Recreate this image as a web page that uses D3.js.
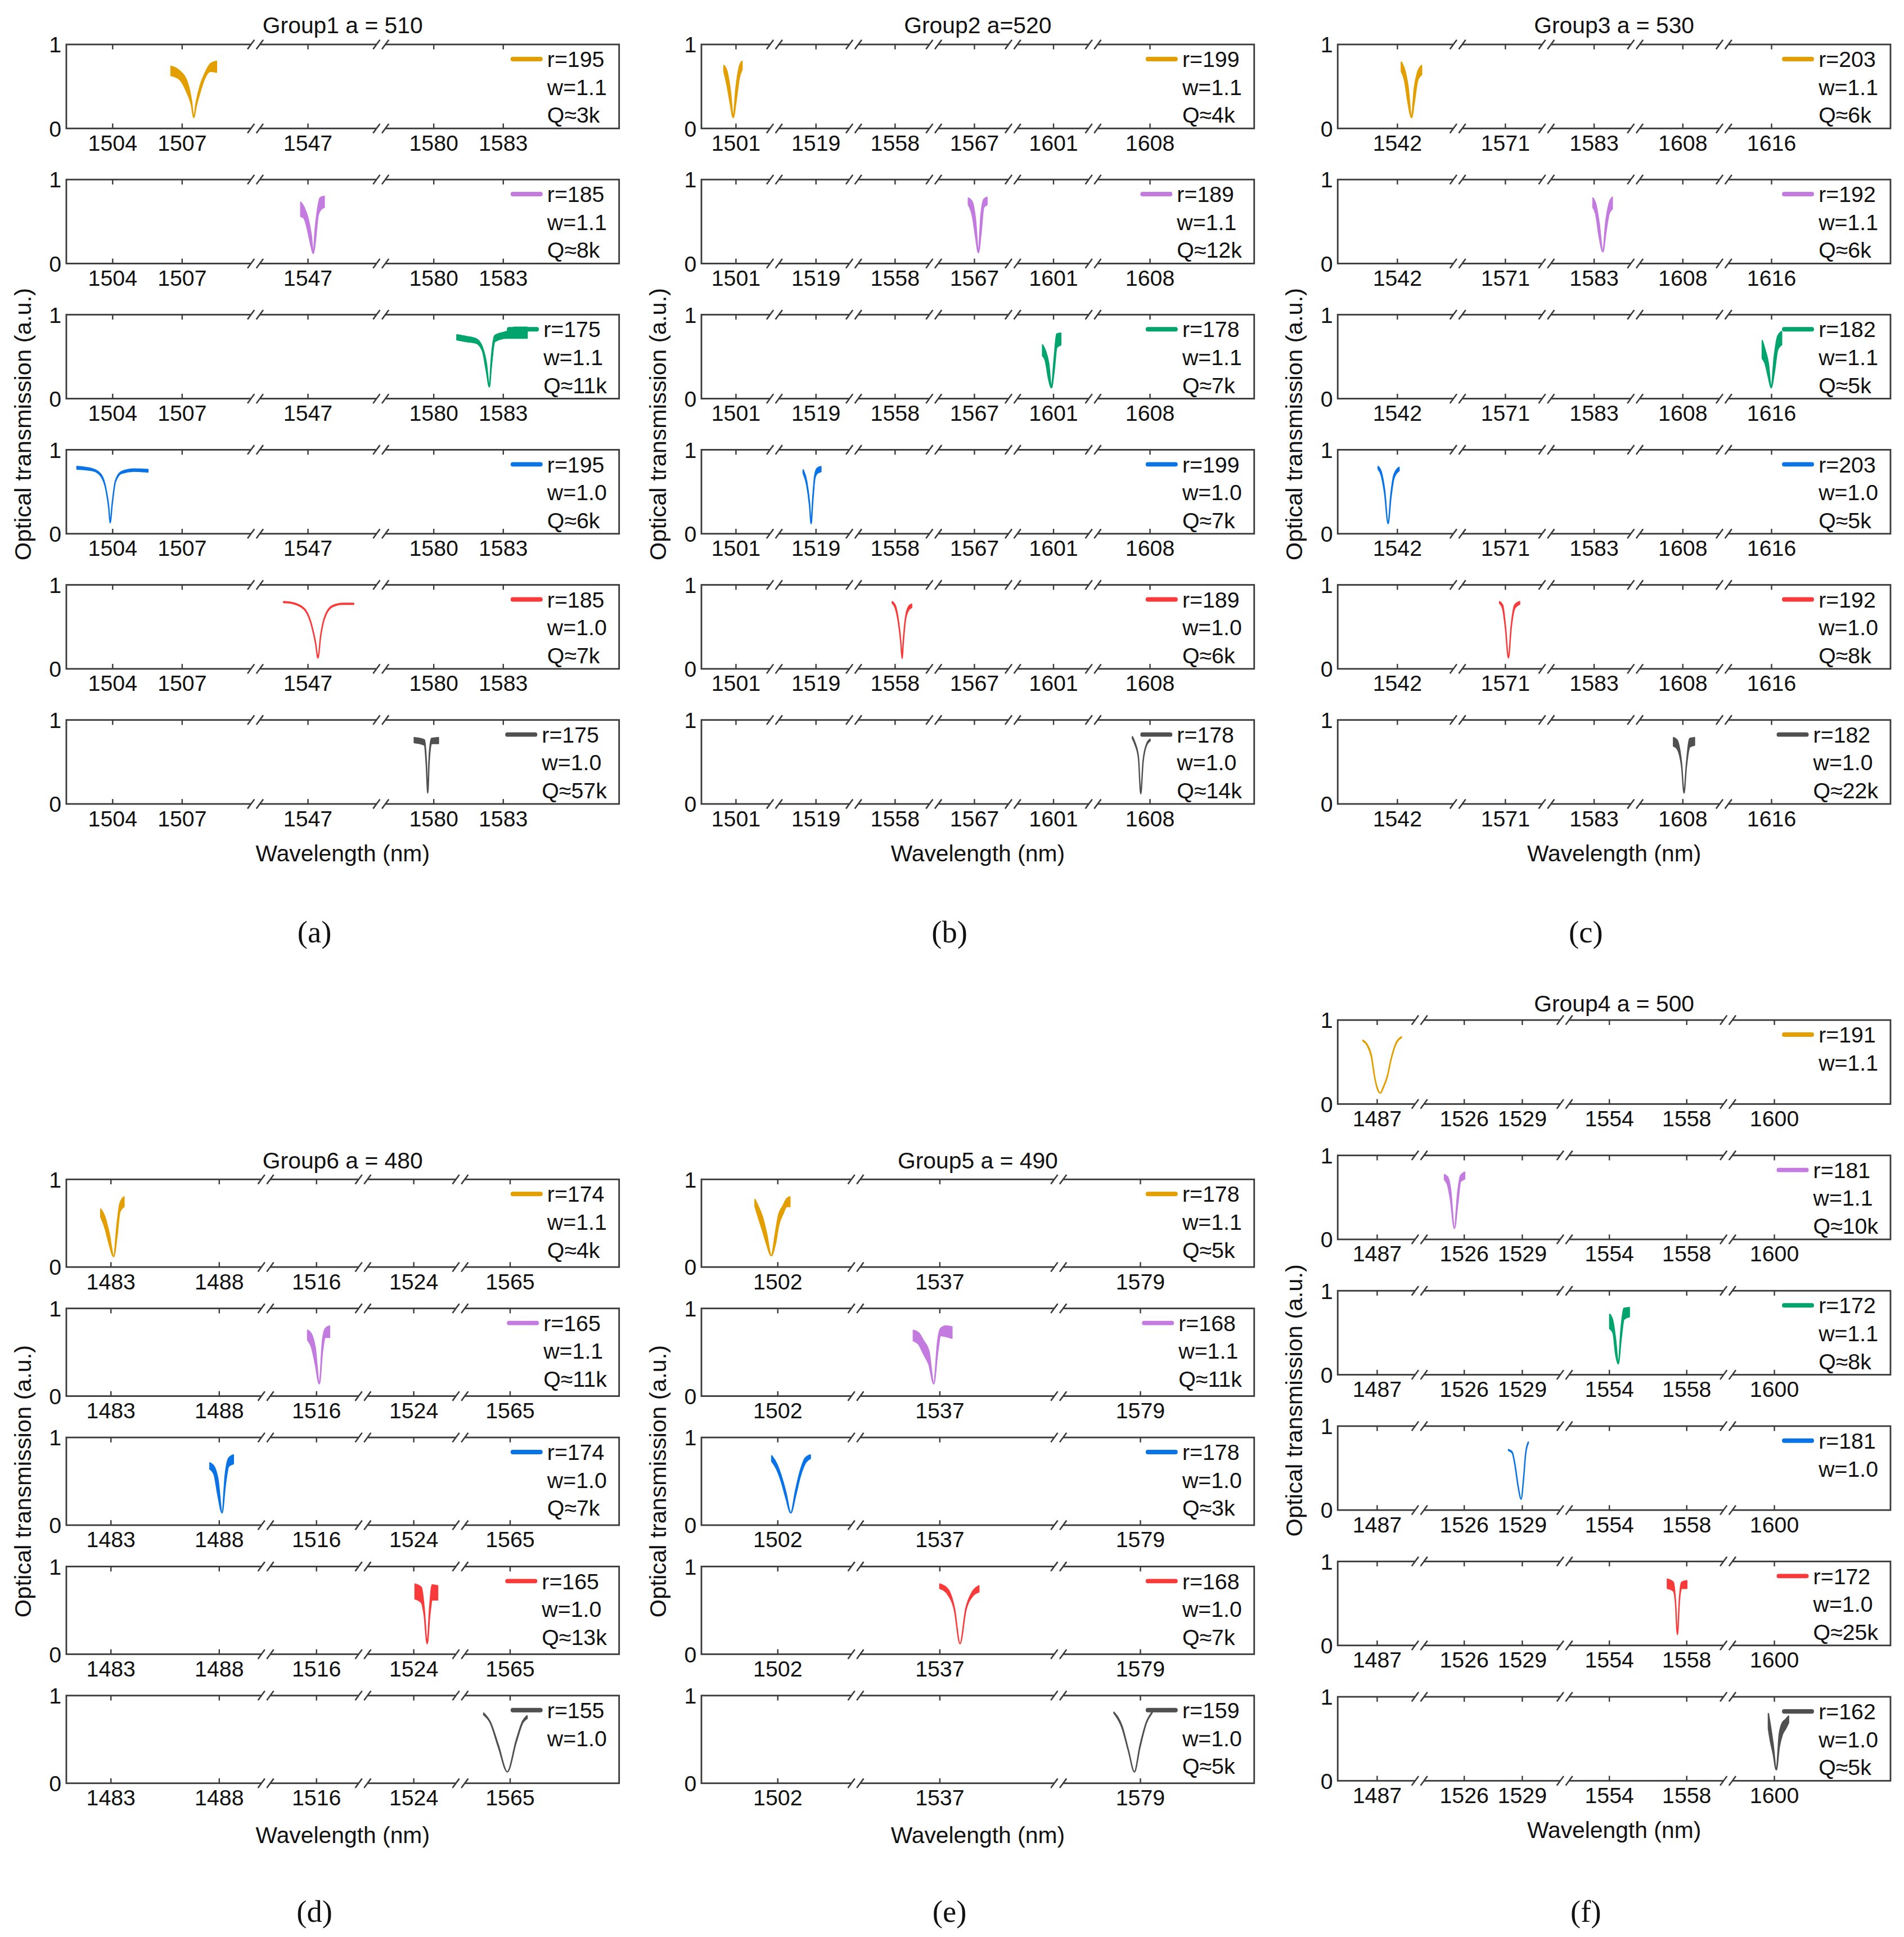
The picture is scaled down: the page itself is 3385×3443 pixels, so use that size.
<!DOCTYPE html>
<html>
<head>
<meta charset="utf-8">
<script src="https://cdn.jsdelivr.net/npm/d3@7"></script>
<style>
    body { margin: 0; background: #fff; }
    text { font-family: "Liberation Sans", Arial, sans-serif; fill: #111; }
    .letter { font-family: "Liberation Serif", "Times New Roman", serif; }
</style>
</head>
<body>
<div id="chart"></div>
<script>
// ---------------- data ----------------
// panel order: (a) (b) (c) on top, (d) (e) (f) below
const groupNames = ["Group1 a = 510", "Group2 a=520", "Group3 a = 530", "Group6 a = 480", "Group5 a = 490", "Group4 a = 500"];
const panelLetters = ["(a)", "(b)", "(c)", "(d)", "(e)", "(f)"];

// visible wavelength windows (nm) of every broken x axis
const axisSegments = [
    [[1502.0, 1510.16], [1544.73, 1550.15], [1577.72, 1588.0]],
    [[1499.51, 1502.66], [1517.21, 1520.63], [1556.22, 1559.67], [1565.25, 1568.66], [1599.25, 1602.71], [1605.55, 1612.49]],
    [[1539.43, 1544.6], [1568.95, 1572.77], [1580.95, 1584.77], [1605.95, 1609.77], [1613.95, 1621.12]],
    [[1480.94, 1490.15], [1513.66, 1518.15], [1521.66, 1526.15], [1562.7, 1570.03]],
    [[1498.71, 1505.36], [1533.38, 1542.12], [1575.48, 1583.9]],
    [[1484.96, 1489.19], [1523.69, 1531.19], [1551.69, 1560.13], [1597.6, 1606.0]]
];

const tickValues = [
    [1504, 1507, 1547, 1580, 1583],
    [1501, 1519, 1558, 1567, 1601, 1608],
    [1542, 1571, 1583, 1608, 1616],
    [1483, 1488, 1516, 1524, 1565],
    [1502, 1537, 1579],
    [1487, 1526, 1529, 1554, 1558, 1600]
];

const radii = [
    [195, 185, 175, 195, 185, 175],
    [199, 189, 178, 199, 189, 178],
    [203, 192, 182, 203, 192, 182],
    [174, 165, 174, 165, 155],
    [178, 168, 178, 168, 159],
    [191, 181, 172, 181, 172, 162]
];
const wgWidths = [
    ["1.1", "1.1", "1.1", "1.0", "1.0", "1.0"],
    ["1.1", "1.1", "1.1", "1.0", "1.0", "1.0"],
    ["1.1", "1.1", "1.1", "1.0", "1.0", "1.0"],
    ["1.1", "1.1", "1.0", "1.0", "1.0"],
    ["1.1", "1.1", "1.0", "1.0", "1.0"],
    ["1.1", "1.1", "1.1", "1.0", "1.0", "1.0"]
];
const qFactors = [
    ["3k", "8k", "11k", "6k", "7k", "57k"],
    ["4k", "12k", "7k", "7k", "6k", "14k"],
    ["6k", "6k", "5k", "5k", "8k", "22k"],
    ["4k", "11k", "7k", "13k", null],
    ["5k", "11k", "3k", "7k", "5k"],
    [null, "10k", "8k", null, "25k", "5k"]
];
// which series colour each row uses (w=1.1 large/mid/small, w=1.0 large/mid/small)
const seriesKind = [
    [0, 1, 2, 3, 4, 5],
    [0, 1, 2, 3, 4, 5],
    [0, 1, 2, 3, 4, 5],
    [0, 1, 3, 4, 5],
    [0, 1, 3, 4, 5],
    [0, 1, 2, 3, 4, 5]
];

// transmission traces: [wavelength nm, lower edge, upper edge] of the (noisy) band
const traces = [
    [
        [[1506.52,.63,.74],[1506.87,.59,.69],[1507.22,.42,.55],[1507.40,.28,.33],[1507.50,.13,.13],[1507.60,.26,.30],[1507.80,.46,.53],[1507.96,.59,.64],[1508.22,.68,.77],[1508.48,.67,.80]],
        [[1546.69,.56,.73],[1546.83,.54,.67],[1547.00,.38,.54],[1547.14,.20,.34],[1547.23,.12,.12],[1547.31,.25,.40],[1547.43,.56,.67],[1547.52,.63,.78],[1547.70,.67,.80]],
        [[1581.00,.70,.76],[1581.40,.68,.74],[1581.84,.66,.71],[1582.10,.57,.61],[1582.27,.33,.42],[1582.40,.14,.14],[1582.48,.37,.46],[1582.63,.68,.75],[1583.15,.72,.80],[1583.50,.72,.85],[1584.03,.72,.85]],
        [[1502.46,.77,.80],[1503.16,.75,.77],[1503.51,.68,.70],[1503.72,.51,.52],[1503.83,.31,.32],[1503.89,.13,.13],[1503.98,.35,.36],[1504.12,.62,.63],[1504.38,.72,.74],[1504.91,.745,.77],[1505.52,.735,.765]],
        [[1545.95,.79,.80],[1546.30,.78,.79],[1546.83,.71,.72],[1547.17,.50,.51],[1547.33,.30,.31],[1547.43,.13,.13],[1547.55,.39,.40],[1547.70,.59,.60],[1548.05,.74,.75],[1548.50,.77,.78],[1548.97,.77,.78]],
        [[1579.16,.73,.79],[1579.40,.72,.78],[1579.60,.70,.76],[1579.68,.45,.50],[1579.74,.13,.13],[1579.80,.50,.55],[1579.90,.72,.78],[1580.20,.72,.79]]
    ],
    [
        [[1500.48,.68,.75],[1500.62,.51,.67],[1500.76,.29,.44],[1500.88,.13,.13],[1501.00,.32,.48],[1501.14,.60,.73],[1501.26,.70,.80]],
        [[1566.74,.70,.78],[1566.91,.57,.73],[1567.05,.32,.51],[1567.17,.13,.13],[1567.28,.35,.57],[1567.40,.67,.76],[1567.54,.70,.79]],
        [[1600.53,.51,.64],[1600.65,.45,.57],[1600.79,.23,.42],[1600.91,.13,.13],[1601.02,.32,.45],[1601.14,.61,.77],[1601.31,.64,.78]],
        [[1518.45,.72,.76],[1518.60,.58,.62],[1518.72,.34,.37],[1518.79,.12,.12],[1518.86,.38,.42],[1518.95,.66,.70],[1519.05,.72,.78],[1519.21,.74,.80]],
        [[1557.88,.78,.80],[1558.00,.73,.76],[1558.15,.54,.56],[1558.25,.30,.31],[1558.30,.125,.125],[1558.36,.34,.36],[1558.45,.59,.61],[1558.58,.70,.74],[1558.71,.73,.77]],
        [[1607.24,.78,.80],[1607.35,.71,.73],[1607.50,.55,.56],[1607.60,.12,.12],[1607.70,.50,.51],[1607.85,.70,.71],[1608.00,.75,.77]]
    ],
    [
        [[1542.17,.68,.79],[1542.31,.57,.70],[1542.45,.32,.51],[1542.61,.13,.13],[1542.73,.32,.48],[1542.87,.57,.67],[1543.04,.64,.75]],
        [[1582.95,.67,.78],[1583.07,.59,.71],[1583.21,.33,.49],[1583.38,.14,.14],[1583.50,.36,.49],[1583.64,.59,.71],[1583.78,.65,.79]],
        [[1615.60,.48,.69],[1615.72,.42,.58],[1615.86,.26,.42],[1615.98,.13,.13],[1616.12,.32,.51],[1616.26,.58,.74],[1616.43,.64,.80]],
        [[1541.17,.77,.80],[1541.30,.70,.74],[1541.45,.48,.52],[1541.60,.12,.12],[1541.72,.43,.47],[1541.85,.66,.70],[1542.07,.75,.79]],
        [[1570.75,.78,.80],[1570.88,.72,.76],[1571.00,.49,.51],[1571.13,.13,.13],[1571.25,.49,.51],[1571.40,.72,.76],[1571.61,.77,.80]],
        [[1607.60,.69,.79],[1607.75,.66,.76],[1607.95,.44,.46],[1608.05,.13,.13],[1608.15,.44,.46],[1608.30,.68,.78],[1608.50,.70,.79]]
    ],
    [
        [[1482.53,.57,.66],[1482.72,.45,.57],[1482.91,.27,.39],[1483.13,.12,.12],[1483.28,.36,.48],[1483.41,.63,.72],[1483.60,.69,.80]],
        [[1515.59,.64,.75],[1515.78,.55,.70],[1515.94,.37,.55],[1516.13,.14,.14],[1516.28,.52,.64],[1516.41,.67,.77],[1516.60,.67,.80]],
        [[1487.57,.64,.71],[1487.76,.58,.67],[1487.94,.34,.52],[1488.13,.14,.14],[1488.28,.46,.58],[1488.43,.67,.76],[1488.65,.70,.80]],
        [[1524.06,.63,.80],[1524.35,.59,.76],[1524.48,.45,.52],[1524.62,.12,.12],[1524.74,.45,.55],[1524.85,.62,.79],[1525.10,.62,.78]],
        [[1563.78,.78,.80],[1564.08,.69,.70],[1564.46,.41,.43],[1564.87,.13,.13],[1565.28,.47,.49],[1565.58,.69,.71],[1565.78,.74,.77]]
    ],
    [
        [[1501.02,.69,.77],[1501.16,.57,.69],[1501.34,.42,.57],[1501.51,.27,.39],[1501.72,.13,.13],[1501.90,.27,.39],[1502.04,.48,.60],[1502.21,.60,.69],[1502.39,.69,.78],[1502.52,.69,.80]],
        [[1535.86,.63,.75],[1536.09,.59,.72],[1536.30,.48,.63],[1536.53,.36,.51],[1536.74,.14,.14],[1536.91,.51,.63],[1537.03,.69,.77],[1537.26,.68,.80],[1537.52,.66,.79]],
        [[1501.74,.73,.79],[1501.95,.64,.70],[1502.16,.49,.55],[1502.35,.31,.37],[1502.56,.14,.14],[1502.77,.34,.40],[1502.96,.55,.61],[1503.17,.70,.76],[1503.40,.76,.80]],
        [[1537.00,.75,.80],[1537.35,.68,.74],[1537.63,.50,.52],[1537.87,.12,.12],[1538.12,.50,.52],[1538.40,.66,.71],[1538.68,.71,.78]],
        [[1577.86,.80,.81],[1578.21,.63,.65],[1578.49,.36,.37],[1578.74,.13,.13],[1578.98,.41,.43],[1579.26,.69,.70],[1579.50,.80,.81]]
    ],
    [
        [[1486.27,.75,.76],[1486.48,.70,.71],[1486.69,.57,.59],[1486.89,.29,.30],[1487.04,.16,.17],[1487.17,.13,.13],[1487.31,.19,.20],[1487.52,.32,.33],[1487.73,.54,.55],[1487.94,.70,.71],[1488.25,.79,.80]],
        [[1524.98,.71,.77],[1525.15,.64,.74],[1525.29,.47,.60],[1525.49,.13,.13],[1525.67,.44,.57],[1525.81,.69,.76],[1526.02,.72,.80]],
        [[1554.02,.55,.72],[1554.19,.50,.63],[1554.33,.24,.40],[1554.46,.13,.13],[1554.61,.43,.56],[1554.75,.66,.79],[1555.03,.69,.80]],
        [[1528.29,.71,.72],[1528.48,.68,.69],[1528.63,.52,.53],[1528.79,.27,.28],[1528.94,.13,.13],[1529.07,.38,.39],[1529.17,.66,.67],[1529.31,.80,.81]],
        [[1557.00,.68,.79],[1557.31,.65,.75],[1557.41,.53,.55],[1557.52,.13,.13],[1557.62,.53,.55],[1557.73,.68,.75],[1558.00,.68,.77]],
        [[1599.69,.62,.80],[1599.79,.48,.66],[1599.93,.33,.44],[1600.10,.13,.13],[1600.25,.40,.55],[1600.41,.55,.69],[1600.58,.62,.73],[1600.73,.69,.77]]
    ]
];

// ---------------- layout (figure units, scaled up by the viewBox) ----------------
const config = {
    pixelWidth: 3385,
    pixelHeight: 3443,
    width: 1550,
    height: 1568.5,
    panelWidth: 450,
    fontSize: 18,
    labelSize: 18.7,
    axisColor: "#3a3a3a",
    palette: ["#e39e00", "#c37be0", "#00a46c", "#0a73e6", "#f83a3a", "#505050"]
};

const columns = [
    { x0: 54,   top: 36,  step: 109.4, h: 68, titleY: 27,  xlabelY: 697.5,  letterY: 763 },
    { x0: 571,  top: 36,  step: 109.4, h: 68, titleY: 27,  xlabelY: 697.5,  letterY: 763 },
    { x0: 1089, top: 36,  step: 109.4, h: 68, titleY: 27,  xlabelY: 697.5,  letterY: 763 },
    { x0: 54,   top: 955, step: 104.5, h: 71, titleY: 946, xlabelY: 1492.5, letterY: 1556 },
    { x0: 571,  top: 955, step: 104.5, h: 71, titleY: 946, xlabelY: 1492.5, letterY: 1556 },
    { x0: 1089, top: 826, step: 109.6, h: 68, titleY: 819, xlabelY: 1488.5, letterY: 1556 }
];

const svg = d3.select("#chart")
    .append("svg")
    .attr("width", config.pixelWidth)
    .attr("height", config.pixelHeight)
    .attr("viewBox", [0, 0, config.width, config.height])
    .attr("preserveAspectRatio", "none")
    .style("display", "block")
;

// broken axis = polylinear scale, each window gets width in proportion to its span
function brokenScale(segments, x0, x1) {
    const total = d3.sum(segments, s => s[1] - s[0]);
    let pos = x0;
    const domain = [], range = [], breaks = [];
    segments.forEach((s, i) => {
        const w = (s[1] - s[0]) / total * (x1 - x0);
        domain.push(s[0], s[1]);
        range.push(pos, pos + w);
        pos += w;
        if (i < segments.length - 1) breaks.push(pos);
    });
    const scale = d3.scaleLinear().domain(domain).range(range);
    scale.breaks = breaks;
    return scale;
}

function drawBreak(g, bx, by) {
    g.append("rect")
        .attr("x", bx - 3.5)
        .attr("y", by - 1.5)
        .attr("width", 7)
        .attr("height", 3)
        .attr("fill", "#fff")
    ;
    [-3.6, 3.6].forEach(dx => {
        g.append("line")
            .attr("x1", bx + dx - 2.8).attr("y1", by + 3.8)
            .attr("x2", bx + dx + 2.8).attr("y2", by - 3.8)
            .attr("stroke", config.axisColor)
            .attr("stroke-width", 1.2)
        ;
    });
}

function drawPanel(gi, ri) {
    const col = columns[gi];
    const top = col.top + ri * col.step;
    const bottom = top + col.h;
    const left = col.x0;
    const right = col.x0 + config.panelWidth;
    const color = config.palette[seriesKind[gi][ri]];

    const x = brokenScale(axisSegments[gi], left, right);
    const y = d3.scaleLinear().domain([0, 1]).range([bottom, top]);

    const g = svg.append("g").attr("class", "panel");

    // measured band
    const area = d3.area()
        .x(d => x(d[0]))
        .y0(d => y(d[1]))
        .y1(d => y(d[2]))
        .curve(d3.curveMonotoneX)
    ;
    g.append("path")
        .datum(traces[gi][ri])
        .attr("d", area)
        .attr("fill", color)
        .attr("stroke", color)
        .attr("stroke-width", 1.1)
        .attr("stroke-linejoin", "round")
    ;

    // box
    g.append("rect")
        .attr("x", left).attr("y", top)
        .attr("width", right - left).attr("height", col.h)
        .attr("fill", "none")
        .attr("stroke", config.axisColor)
        .attr("stroke-width", 1.3)
    ;

    // inward ticks on top and bottom
    const ticks = tickValues[gi];
    g.selectAll(".tick")
        .data(ticks.flatMap(t => [[t, bottom, -4], [t, top, 4]]))
        .join("line")
        .attr("x1", d => x(d[0])).attr("x2", d => x(d[0]))
        .attr("y1", d => d[1]).attr("y2", d => d[1] + d[2])
        .attr("stroke", config.axisColor)
        .attr("stroke-width", 1.1)
    ;

    x.breaks.forEach(bx => {
        drawBreak(g, bx, top);
        drawBreak(g, bx, bottom);
    });

    g.selectAll(".xlab")
        .data(ticks)
        .join("text")
        .attr("x", d => x(d))
        .attr("y", bottom + 18)
        .attr("text-anchor", "middle")
        .attr("font-size", config.fontSize)
        .text(d => d)
    ;

    g.selectAll(".ylab")
        .data(y.domain())
        .join("text")
        .attr("x", left - 4)
        .attr("y", d => y(d))
        .attr("dy", "0.36em")
        .attr("text-anchor", "end")
        .attr("font-size", config.fontSize)
        .text(d => d)
    ;

    // legend, right aligned like the matlab box
    const lines = [`r=${radii[gi][ri]}`, `w=${wgWidths[gi][ri]}`];
    if (qFactors[gi][ri]) lines.push(`Q\u2248${qFactors[gi][ri]}`);
    const rowY = [11.8, 34.4, 57];
    const leg = g.append("g");
    const texts = leg.selectAll("text")
        .data(lines)
        .join("text")
        .attr("y", (d, i) => top + rowY[i])
        .attr("dy", "0.36em")
        .attr("font-size", config.fontSize)
        .text(d => d)
    ;
    let maxW = 0;
    texts.each(function() { maxW = Math.max(maxW, this.getComputedTextLength()); });
    const tx = right - 10 - maxW;
    texts.attr("x", tx);
    leg.append("line")
        .attr("x1", tx - 28).attr("x2", tx - 5.5)
        .attr("y1", top + rowY[0]).attr("y2", top + rowY[0])
        .attr("stroke", color)
        .attr("stroke-width", 3.6)
        .attr("stroke-linecap", "round")
    ;
}

groupNames.forEach((name, gi) => {
    const col = columns[gi];
    const n = traces[gi].length;
    const cx = col.x0 + config.panelWidth / 2;

    for (let ri = 0; ri < n; ++ri) drawPanel(gi, ri);

    svg.append("text")
        .attr("x", cx)
        .attr("y", col.titleY)
        .attr("text-anchor", "middle")
        .attr("font-size", config.labelSize)
        .text(name)
    ;
    svg.append("text")
        .attr("x", cx)
        .attr("y", col.xlabelY)
        .attr("text-anchor", "middle")
        .attr("font-size", config.labelSize)
        .text("Wavelength (nm)")
    ;
    const midY = (col.top + (n - 1) * col.step + col.h + col.top) / 2;
    svg.append("text")
        .attr("transform", `translate(${col.x0 - 29},${midY}) rotate(-90)`)
        .attr("text-anchor", "middle")
        .attr("font-size", 19)
        .text("Optical transmission (a.u.)")
    ;
    svg.append("text")
        .attr("class", "letter")
        .attr("x", col.x0 + 202)
        .attr("y", col.letterY)
        .attr("text-anchor", "middle")
        .attr("font-size", 25)
        .text(panelLetters[gi])
    ;
});
</script>
</body>
</html>
